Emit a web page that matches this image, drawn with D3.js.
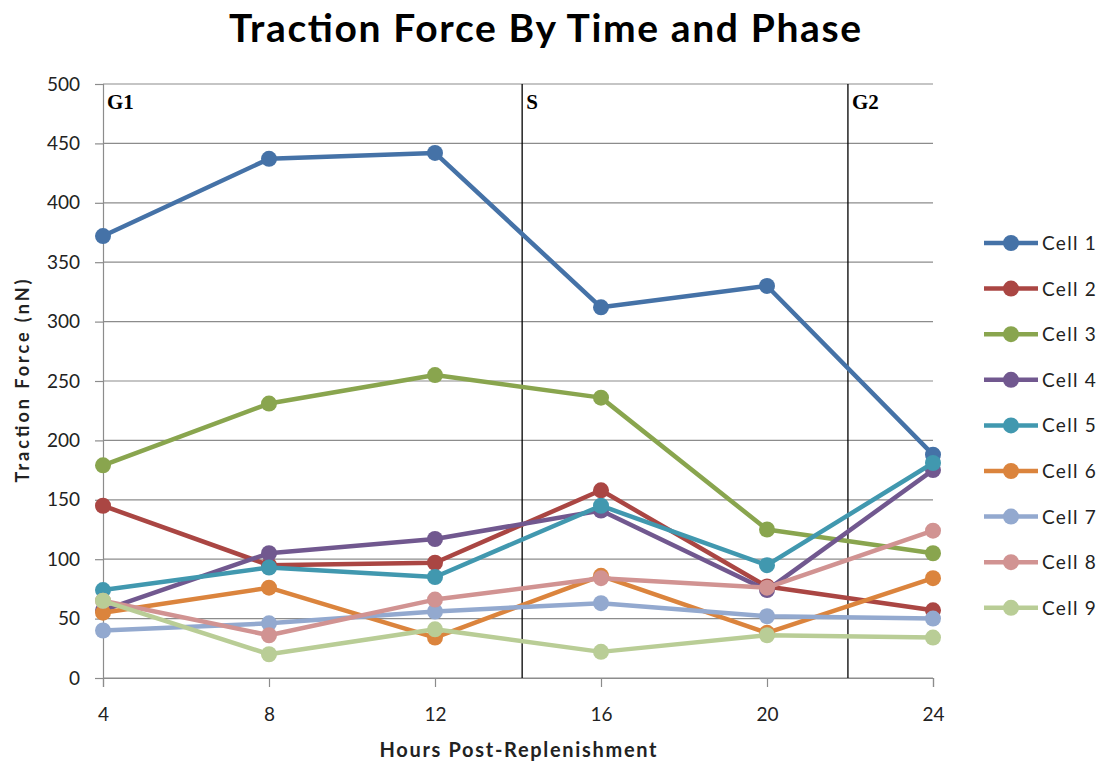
<!DOCTYPE html>
<html><head><meta charset="utf-8">
<script src="https://cdn.jsdelivr.net/npm/d3@7"></script>
<style>body{margin:0;background:#fff}svg{display:block}</style>
</head><body><svg id="c" width="1103" height="767"></svg>
<script>
const hours = [4, 8, 12, 16, 20, 24];
const seriesNames = ["Cell 1","Cell 2","Cell 3","Cell 4","Cell 5","Cell 6","Cell 7","Cell 8","Cell 9"];
const cell1 = [372, 437, 442, 312, 330, 188];
const cell2 = [145, 95, 97, 158, 77, 57];
const cell3 = [179, 231, 255, 236, 125, 105];
const cell4 = [57, 105, 117, 141, 74, 175];
const cell5 = [74, 93, 85, 145, 95, 181];
const cell6 = [55, 76, 34, 86, 38, 84];
const cell7 = [40, 46, 56, 63, 52, 50];
const cell8 = [65, 36, 66, 84, 76, 124];
const cell9 = [65, 20, 41, 22, 36, 34];
const yTicks = [0,50,100,150,200,250,300,350,400,450,500];
const phases = [{label:"G1", x:4}, {label:"S", x:14.1}, {label:"G2", x:21.95}];
const colors = ["#4572A7","#AA4643","#89A54E","#71588F","#4198AF","#DB843D","#93A9CF","#D19392","#B9CD96"];
const allSeries = [cell1,cell2,cell3,cell4,cell5,cell6,cell7,cell8,cell9];

const svg = d3.select("#c");
const x = d3.scaleLinear().domain([4,24]).range([103,933]);
const y = d3.scaleLinear().domain([0,500]).range([678,84]);
const font = "Lato, 'Open Sans', sans-serif";

// gridlines
svg.append("g").selectAll("line").data(yTicks).join("line")
  .attr("x1",103).attr("x2",933).attr("y1",d=>y(d)).attr("y2",d=>y(d))
  .attr("stroke","#8c8c8c").attr("stroke-width",1.2);

// y axis
const ya = svg.append("g").attr("transform","translate(103,0)")
  .call(d3.axisLeft(y).tickValues(yTicks).tickSize(8).tickPadding(15));
ya.select(".domain").attr("stroke","#8c8c8c").attr("stroke-width",1.2);
ya.selectAll(".tick line").attr("stroke","#8c8c8c").attr("stroke-width",1.2);
ya.selectAll("text").attr("font-family",font).attr("font-size",19).attr("fill","#222");

// x axis
const xa = svg.append("g").attr("transform","translate(0,678)")
  .call(d3.axisBottom(x).tickValues(hours).tickSize(9).tickPadding(21));
xa.select(".domain").attr("stroke","#8c8c8c").attr("stroke-width",1.2);
xa.selectAll(".tick line").attr("stroke","#8c8c8c").attr("stroke-width",1.2);
xa.selectAll("text").attr("font-family",font).attr("font-size",19).attr("fill","#222");

// phase lines
const ph = svg.append("g");
ph.selectAll("line").data(phases.filter(p=>p.x>4)).join("line")
  .attr("x1",d=>x(d.x)).attr("x2",d=>x(d.x)).attr("y1",84).attr("y2",678)
  .attr("stroke","#000").attr("stroke-width",1.3);
ph.selectAll("text").data(phases).join("text")
  .attr("x",d=>x(d.x)+4).attr("y",109)
  .attr("font-family","'Liberation Serif', serif").attr("font-weight","bold").attr("font-size",21)
  .text(d=>d.label);

// series
const line = d3.line().x((d,i)=>x(hours[i])).y(d=>y(d));
allSeries.forEach((s,k)=>{
  const g = svg.append("g");
  g.append("path").attr("d",line(s)).attr("fill","none").attr("stroke",colors[k])
    .attr("stroke-width",4.5).attr("stroke-linejoin","round");
  g.selectAll("circle").data(s).join("circle")
    .attr("cx",(d,i)=>x(hours[i])).attr("cy",d=>y(d)).attr("r",8).attr("fill",colors[k]);
});

// legend
const lg = svg.append("g").selectAll("g").data(seriesNames).join("g")
  .attr("transform",(d,i)=>`translate(0,${243 + i*45.6})`);
lg.append("line").attr("x1",984).attr("x2",1038).attr("stroke",(d,i)=>colors[i]).attr("stroke-width",4.5);
lg.append("circle").attr("cx",1011).attr("r",8).attr("fill",(d,i)=>colors[i]);
lg.append("text").attr("x",1042).attr("y",7).attr("font-family",font).attr("font-size",19)
  .attr("letter-spacing",1.3).attr("fill","#222").text(d=>d);

// titles
svg.append("text").attr("x",545).attr("y",42).attr("text-anchor","middle")
  .attr("font-family",font).attr("font-weight","bold").attr("font-size",39)
  .attr("textLength",632).attr("lengthAdjust","spacing").text("Traction Force By Time and Phase");
svg.append("text").attr("x",518).attr("y",757).attr("text-anchor","middle")
  .attr("font-family",font).attr("font-weight","bold").attr("font-size",20).attr("fill","#222")
  .attr("textLength",277).attr("lengthAdjust","spacing").text("Hours Post-Replenishment");
svg.append("text").attr("transform","translate(29,381) rotate(-90)").attr("text-anchor","middle")
  .attr("font-family",font).attr("font-weight","bold").attr("font-size",18).attr("fill","#222")
  .attr("textLength",203).attr("lengthAdjust","spacing").text("Traction Force (nN)");
</script></body></html>
